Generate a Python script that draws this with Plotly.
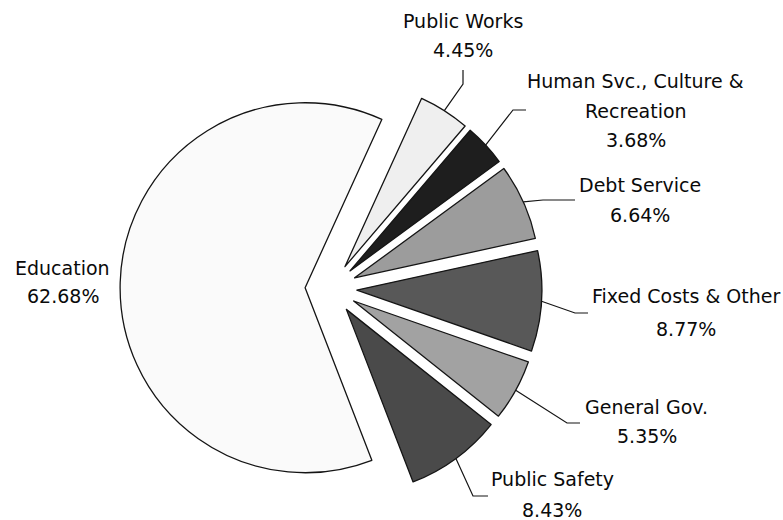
import math
import plotly.graph_objects as go

# Budget shares by function (percent of total)
categories = ["Public Works", "Human Svc., Culture & Recreation", "Debt Service",
              "Fixed Costs & Other", "General Gov.", "Public Safety", "Education"]
shares = [4.45, 3.68, 6.64, 8.77, 5.35, 8.43, 62.68]
name_lines = [["Public Works"], ["Human Svc., Culture &", "Recreation"], ["Debt Service"],
              ["Fixed Costs & Other"], ["General Gov."], ["Public Safety"], ["Education"]]
slice_colors = ["#efefef", "#1e1e1e", "#9c9c9c", "#585858", "#a2a2a2", "#4a4a4a", "#fafafa"]

# Figure geometry (pixels)
W, H = 783, 520
START_ANGLE = 24.5          # clockwise from 12 o'clock
PULL = 0.14
CX, CY, R = 331.0, 288.5, 185.0

# Label layout: centre x, y of each text line, and leader elbow/end points (pixels)
label_layout = [
    dict(x=463, ys=[21, 50], leader=[(463, 84), (463, 70)]),
    dict(x=635.5, ys=[80.5, 110.5, 140], leader=[(513, 110), (526, 110)]),
    dict(x=640, ys=[185, 214.5], leader=[(543, 200), (575, 200)]),
    dict(x=686, ys=[295.5, 328.5], leader=[(575, 313), (588, 313)]),
    dict(x=646.5, ys=[407, 436.3], leader=[(567, 423), (580, 423)]),
    dict(x=552, ys=[479, 510], leader=[(473, 496), (488, 496)]),
    dict(x=62.5, ys=[267.5, 296], leader=None),
]

FONT = "DejaVu Sans"
FONT_SIZE = 19
TEXT_COLOR = "#0a0a0a"

half = R * (1 + PULL)
domain_x = [(CX - half) / W, (CX + half) / W]
domain_y = [1 - (CY + half) / H, 1 - (CY - half) / H]


def px(x, y):
    return x / W, 1 - y / H


fig = go.Figure(go.Pie(
    labels=categories,
    values=shares,
    sort=False,
    direction="clockwise",
    rotation=START_ANGLE,
    pull=[PULL] * len(shares),
    marker=dict(colors=slice_colors, line=dict(color="#141414", width=1.3)),
    textinfo="none",
    hoverinfo="label+percent",
    domain=dict(x=domain_x, y=domain_y),
    showlegend=False,
))

total = sum(shares)
annotations = []
shapes = []
cum = 0.0
for value, lines, lay in zip(shares, name_lines, label_layout):
    theta = math.radians(START_ANGLE + 360.0 * (cum + value / 2) / total)
    cum += value
    reach = R * (1 + PULL)
    ax = CX + reach * math.sin(theta)
    ay = CY - reach * math.cos(theta)

    texts = lines + [f"{value:.2f}%"]
    for t, y in zip(texts, lay["ys"]):
        xp, yp = px(lay["x"], y)
        annotations.append(dict(
            x=xp, y=yp, xref="paper", yref="paper", text=t, showarrow=False,
            xanchor="center", yanchor="middle",
            font=dict(family=FONT, size=FONT_SIZE, color=TEXT_COLOR),
        ))

    if lay["leader"]:
        pts = [(ax, ay)] + lay["leader"]
        path = " ".join(("M" if i == 0 else "L") + f" {px(x, y)[0]:.5f},{px(x, y)[1]:.5f}"
                        for i, (x, y) in enumerate(pts))
        shapes.append(dict(type="path", path=path, xref="paper", yref="paper",
                           line=dict(color="#141414", width=1.2)))

fig.update_layout(
    width=W, height=H,
    margin=dict(l=0, r=0, t=0, b=0),
    paper_bgcolor="white",
    plot_bgcolor="white",
    annotations=annotations,
    shapes=shapes,
)

fig.write_html("out.html")
